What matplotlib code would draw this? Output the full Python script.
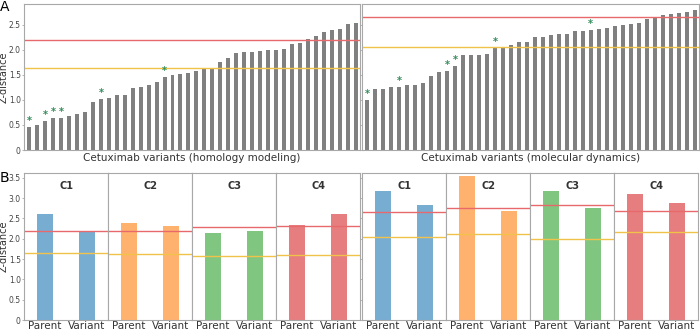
import matplotlib.pyplot as plt
from matplotlib.ticker import FuncFormatter

# Panel A: z-distances per variant (sorted)
z_homologia = [0.46, 0.50, 0.57, 0.63, 0.64, 0.68, 0.72, 0.75, 0.95, 1.02,
               1.04, 1.09, 1.09, 1.23, 1.25, 1.30, 1.36, 1.46, 1.50, 1.52,
               1.54, 1.58, 1.61, 1.61, 1.76, 1.83, 1.94, 1.96, 1.96, 1.98,
               1.99, 2.00, 2.01, 2.11, 2.14, 2.21, 2.28, 2.36, 2.39, 2.42,
               2.52, 2.54]
estrellas_homologia = [0, 2, 3, 4, 9, 17]
umbral_rojo_homologia = 2.185
umbral_amarillo_homologia = 1.63

z_dinamica = [0.99, 1.21, 1.22, 1.26, 1.26, 1.29, 1.30, 1.33, 1.48, 1.55,
              1.57, 1.67, 1.89, 1.89, 1.90, 1.91, 2.04, 2.05, 2.09, 2.15,
              2.15, 2.25, 2.25, 2.29, 2.32, 2.32, 2.38, 2.38, 2.40, 2.41,
              2.44, 2.48, 2.49, 2.51, 2.54, 2.62, 2.66, 2.69, 2.71, 2.73,
              2.75, 2.80]
estrellas_dinamica = [0, 4, 10, 11, 16, 28]
umbral_rojo_dinamica = 2.66
umbral_amarillo_dinamica = 2.05

# Panel B: parent vs variant per cluster
clusters = ["C1", "C2", "C3", "C4"]
etiquetas_x = ["Parent", "Variant"]
colores_cluster = ["tab:blue", "tab:orange", "tab:green", "tab:red"]

parent_hm = [2.61, 2.38, 2.14, 2.33]
variant_hm = [2.17, 2.31, 2.18, 2.62]
rojo_hm = [2.20, 2.19, 2.29, 2.31]
amarillo_hm = [1.64, 1.62, 1.57, 1.60]

parent_md = [3.17, 3.54, 3.17, 3.11]
variant_md = [2.83, 2.69, 2.77, 2.87]
rojo_md = [2.66, 2.75, 2.82, 2.69]
amarillo_md = [2.04, 2.11, 2.00, 2.16]

GRIS_BORDE = "#a8a8a8"
ROJO = "#e8696c"
AMARILLO = "#f0c24a"
VERDE = "#2e8b57"
TEXTO = "#333333"
fmt = FuncFormatter(lambda v, p: "0" if v == 0 else f"{v:.1f}")

fig = plt.figure(figsize=(7, 3.3), dpi=100)
W, H = 700.0, 330.0


def caja(x0, x1, y0, y1):
    return fig.add_axes([x0 / W, 1 - y1 / H, (x1 - x0) / W, (y1 - y0) / H])


def estilo(ax):
    for s in ax.spines.values():
        s.set_color(GRIS_BORDE)
        s.set_linewidth(0.8)
    ax.tick_params(axis="both", length=1.5, width=0.6, color=GRIS_BORDE,
                   labelsize=5.5, pad=0.8, labelcolor="#444444")


def panel_a(ax, valores, estrellas, rojo, amarillo, xlabel, etiquetas_y):
    x = range(len(valores))
    ax.bar(x, valores, width=0.5, color="#808080")
    for i in estrellas:
        ax.text(i, valores[i] + 0.02, "*", color=VERDE, ha="center",
                va="bottom", fontsize=7, fontweight="bold")
    ax.axhline(rojo, color=ROJO, lw=1)
    ax.axhline(amarillo, color=AMARILLO, lw=1)
    ax.set_xlim(-0.65, len(valores) - 0.45)
    ax.set_ylim(0, 2.91)
    ax.set_xticks([])
    ax.set_yticks([0, 0.5, 1.0, 1.5, 2.0, 2.5])
    ax.yaxis.set_major_formatter(fmt)
    estilo(ax)
    if not etiquetas_y:
        ax.tick_params(axis="y", labelleft=False)
    ax.set_xlabel(xlabel, fontsize=7.5, labelpad=2, color=TEXTO)


ax_a1 = caja(24, 360, 4, 150)
panel_a(ax_a1, z_homologia, estrellas_homologia, umbral_rojo_homologia,
        umbral_amarillo_homologia, "Cetuximab variants (homology modeling)", True)
ax_a1.set_ylabel("Z-distance", fontsize=7, color=TEXTO)
ax_a1.yaxis.set_label_coords(-0.046, 0.5)

ax_a2 = caja(362, 699, 4, 150)
panel_a(ax_a2, z_dinamica, estrellas_dinamica, umbral_rojo_dinamica,
        umbral_amarillo_dinamica, "Cetuximab variants (molecular dynamics)", False)


def panel_b(x_inicio, parent, variant, rojo, amarillo, con_ylabel):
    anchos = 84.0
    for k, c in enumerate(clusters):
        x0 = x_inicio + k * anchos
        ax = caja(x0, x0 + anchos, 173, 320)
        ax.bar([0, 1], [parent[k], variant[k]], width=0.4,
               color=colores_cluster[k], alpha=0.6)
        ax.axhline(rojo[k], color=ROJO, lw=1)
        ax.axhline(amarillo[k], color=AMARILLO, lw=1)
        ax.set_xlim(-0.5, 1.5)
        ax.set_ylim(0, 3.62)
        ax.set_xticks([0, 1])
        ax.set_xticklabels(etiquetas_x)
        ax.set_yticks([0, 0.5, 1.0, 1.5, 2.0, 2.5, 3.0, 3.5])
        ax.yaxis.set_major_formatter(fmt)
        estilo(ax)
        ax.tick_params(axis="x", labelsize=7.5, length=0, pad=1,
                       labelcolor=TEXTO)
        ax.text(0.5, 0.91, c, transform=ax.transAxes, ha="center",
                va="center", fontsize=7, fontweight="bold", color=TEXTO)
        if k == 0 and con_ylabel:
            ax.set_ylabel("Z-distance", fontsize=7, color=TEXTO)
            ax.yaxis.set_label_coords(-0.185, 0.5)
        else:
            ax.tick_params(axis="y", labelleft=False)
            if k > 0:
                ax.tick_params(axis="y", length=0)


panel_b(24, parent_hm, variant_hm, rojo_hm, amarillo_hm, True)
panel_b(362, parent_md, variant_md, rojo_md, amarillo_md, False)

fig.text(0.0, 1.0, "A", fontsize=10, va="top", ha="left")
fig.text(0.0, 1 - 178 / H, "B", fontsize=10, va="center", ha="left")

plt.savefig("out.png", dpi=100)
